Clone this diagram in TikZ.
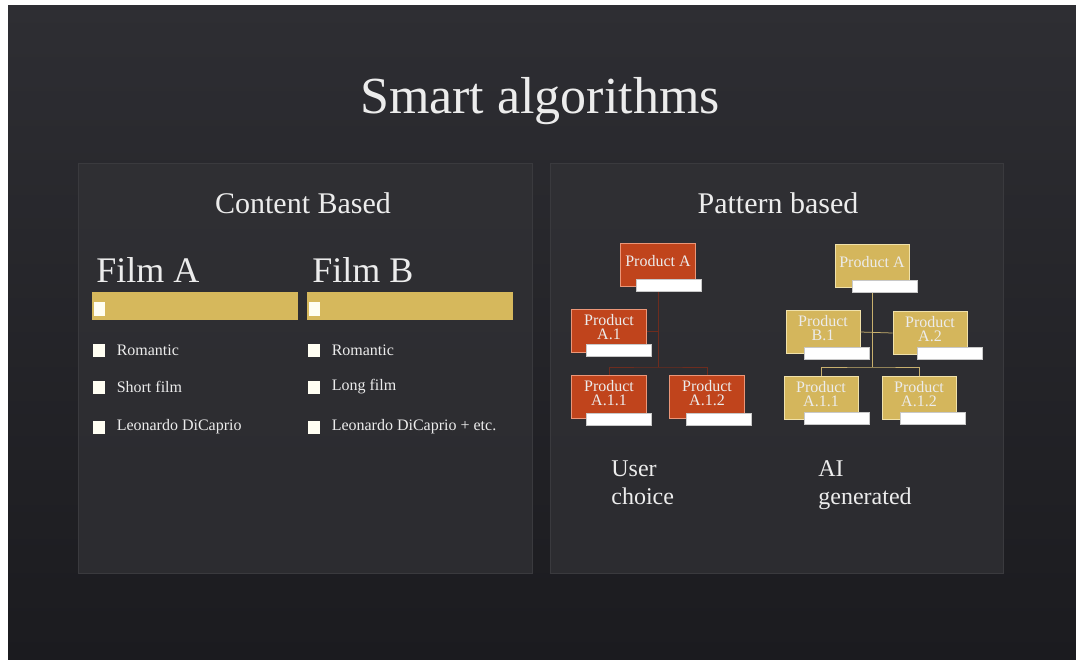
\documentclass[tikz,border=0pt]{standalone}
\usepackage{fontspec}
\setmainfont{Liberation Serif}
\usetikzlibrary{positioning,calc}

\definecolor{bgtop}{RGB}{46,46,51}
\definecolor{bgbot}{RGB}{27,27,31}
\definecolor{panelfill}{RGB}{50,50,54}
\definecolor{paneledge}{RGB}{58,58,62}
\definecolor{goldbar}{RGB}{214,184,92}
\definecolor{rustbox}{RGB}{192,68,28}
\definecolor{rustline}{RGB}{110,44,30}
\definecolor{sandbox}{RGB}{212,182,92}
\definecolor{sandline}{RGB}{200,176,110}
\definecolor{paletext}{RGB}{236,236,236}

\tikzset{every picture/.style={line width=0.75pt}}
\tikzset{
  obox/.style={draw={rgb,255:red,235;green,150;blue,120}, line width=0.6pt, fill=rustbox, text=paletext,
    minimum width=75pt, minimum height=43pt, inner sep=1pt, align=center, text depth=9pt,
    font=\fontsize{16}{14}\selectfont},
  ybox/.style={draw={rgb,255:red,240;green,225;blue,170}, line width=0.6pt, fill=sandbox, text=paletext,
    minimum width=74pt, minimum height=43pt, inner sep=1pt, align=center, text depth=9pt,
    font=\fontsize{16}{14}\selectfont},
  tagbar/.style={draw={rgb,255:red,200;green,200;blue,200}, line width=0.4pt, fill=white,
    minimum width=65pt, minimum height=12pt, inner sep=0pt, anchor=north east},
  chk/.style={fill=white!95!yellow, minimum width=12pt, minimum height=13pt, inner sep=0pt},
  bullettext/.style={text=paletext, anchor=west, inner sep=0pt, font=\fontsize{16}{16}\selectfont},
  filmbar/.style={fill=goldbar, minimum width=206pt, minimum height=28pt, inner sep=0pt, anchor=north west}
}

\begin{document}
\begin{tikzpicture}[x=1pt,y=1pt,yscale=-1]
	\useasboundingbox (0,0) rectangle (1076,659);

	%Background
	\fill [white] (0,0) rectangle (1076,659);
	\shade [top color=bgtop, bottom color=bgbot] (8,5) rectangle (1076,659);

	%Panels
	\draw [paneledge, fill=panelfill, fill opacity=0.7] (78,163) rectangle (532,573);
	\draw [paneledge, fill=panelfill, fill opacity=0.7] (550,163) rectangle (1003,573);

	% Title
	\node [text=paletext, font=\fontsize{52}{52}\selectfont] (title) at (540,101) {Smart algorithms};

	% Panel headings
	\node [text=paletext, font=\fontsize{30}{30}\selectfont] (content) at (303,203) {Content Based};
	\node [text=paletext, font=\fontsize{30}{30}\selectfont] (pattern) at (778,203) {Pattern based};

	% Film A column
	\node [text=paletext, anchor=west, inner sep=0pt, font=\fontsize{36}{36}\selectfont] (filmA) at (96,270) {Film A};
	\node [filmbar] (barA) at (92,292) {};
	\node [chk, minimum width=11pt, minimum height=14pt, anchor=south west] (keyA) at ($(barA.south west)+(2,-4)$) {};
	\node [chk] (boxA1) at (99,350) {};
	\node [bullettext, right=11pt of boxA1] (romA) {Romantic};
	\node [chk] (boxA2) at (99,387) {};
	\node [bullettext, right=11pt of boxA2] (shortA) {Short film};
	\node [chk] (boxA3) at (99,427) {};
	\node [bullettext, right=11pt of boxA3] (leoA) {Leonardo DiCaprio};

	% Film B column
	\node [text=paletext, anchor=west, inner sep=0pt, font=\fontsize{36}{36}\selectfont] (filmB) at (312,270) {Film B};
	\node [filmbar] (barB) at (307,292) {};
	\node [chk, minimum width=11pt, minimum height=14pt, anchor=south west] (keyB) at ($(barB.south west)+(2,-4)$) {};
	\node [chk] (boxB1) at (314,350) {};
	\node [bullettext, right=11pt of boxB1] (romB) {Romantic};
	\node [chk] (boxB2) at (314,387) {};
	\node [bullettext, right=11pt of boxB2] (longB) {Long film};
	\node [chk] (boxB3) at (314,427) {};
	\node [bullettext, right=11pt of boxB3] (leoB) {Leonardo DiCaprio + etc.};

	% User choice tree
	\coordinate (ojoin) at (658,367);
	\node [obox] (oA) at (658,265) {Product A};
	\node [obox] (oA1) at (609,331) {Product\\A.1};
	\node [obox] (oA11) at (609,397) {Product\\A.1.1};
	\node [obox] (oA12) at (707,397) {Product\\A.1.2};
	\draw [rustline] (oA.south) -- (ojoin);
	\draw [rustline] (oA1.east) -- (oA1.east -| ojoin);
	\draw [rustline] (oA11.north) |- (ojoin) -| (oA12.north);
	\node [tagbar] (oAtag) at ($(oA.south east)+(6,-8)$) {};
	\node [tagbar] (oA1tag) at ($(oA1.south east)+(5,-9)$) {};
	\node [tagbar] (oA11tag) at ($(oA11.south east)+(5,-6)$) {};
	\node [tagbar] (oA12tag) at ($(oA12.south east)+(7,-6)$) {};

	% AI generated tree
	\coordinate (yjoin) at (872,367);
	\node [ybox] (yA) at (872,266) {Product A};
	\node [ybox] (yB1) at (823,332) {Product\\B.1};
	\node [ybox] (yA2) at (930,333) {Product\\A.2};
	\node [ybox] (yA11) at (821,398) {Product\\A.1.1};
	\node [ybox] (yA12) at (919,398) {Product\\A.1.2};
	\draw [sandline] (yA.south) -- (yjoin);
	\draw [sandline] (yB1.east) -- (yA2.west);
	\draw [sandline] (yA11.north) |- (yjoin) -| (yA12.north);
	\node [tagbar] (yAtag) at ($(yA.south east)+(8,-8)$) {};
	\node [tagbar] (yB1tag) at ($(yB1.south east)+(9,-7)$) {};
	\node [tagbar] (yA2tag) at ($(yA2.south east)+(15,-8)$) {};
	\node [tagbar] (yA11tag) at ($(yA11.south east)+(11,-8)$) {};
	\node [tagbar] (yA12tag) at ($(yA12.south east)+(9,-8)$) {};

	% Text Node
	\node [text=paletext, anchor=north west, inner sep=0pt, align=left, font=\fontsize{24}{28}\selectfont] (user) at (611,460) {User\\choice};
	% Text Node
	\node [text=paletext, anchor=north west, inner sep=0pt, align=left, font=\fontsize{24}{28}\selectfont] (ai) at (818,460) {AI\\generated};

\end{tikzpicture}
\end{document}
